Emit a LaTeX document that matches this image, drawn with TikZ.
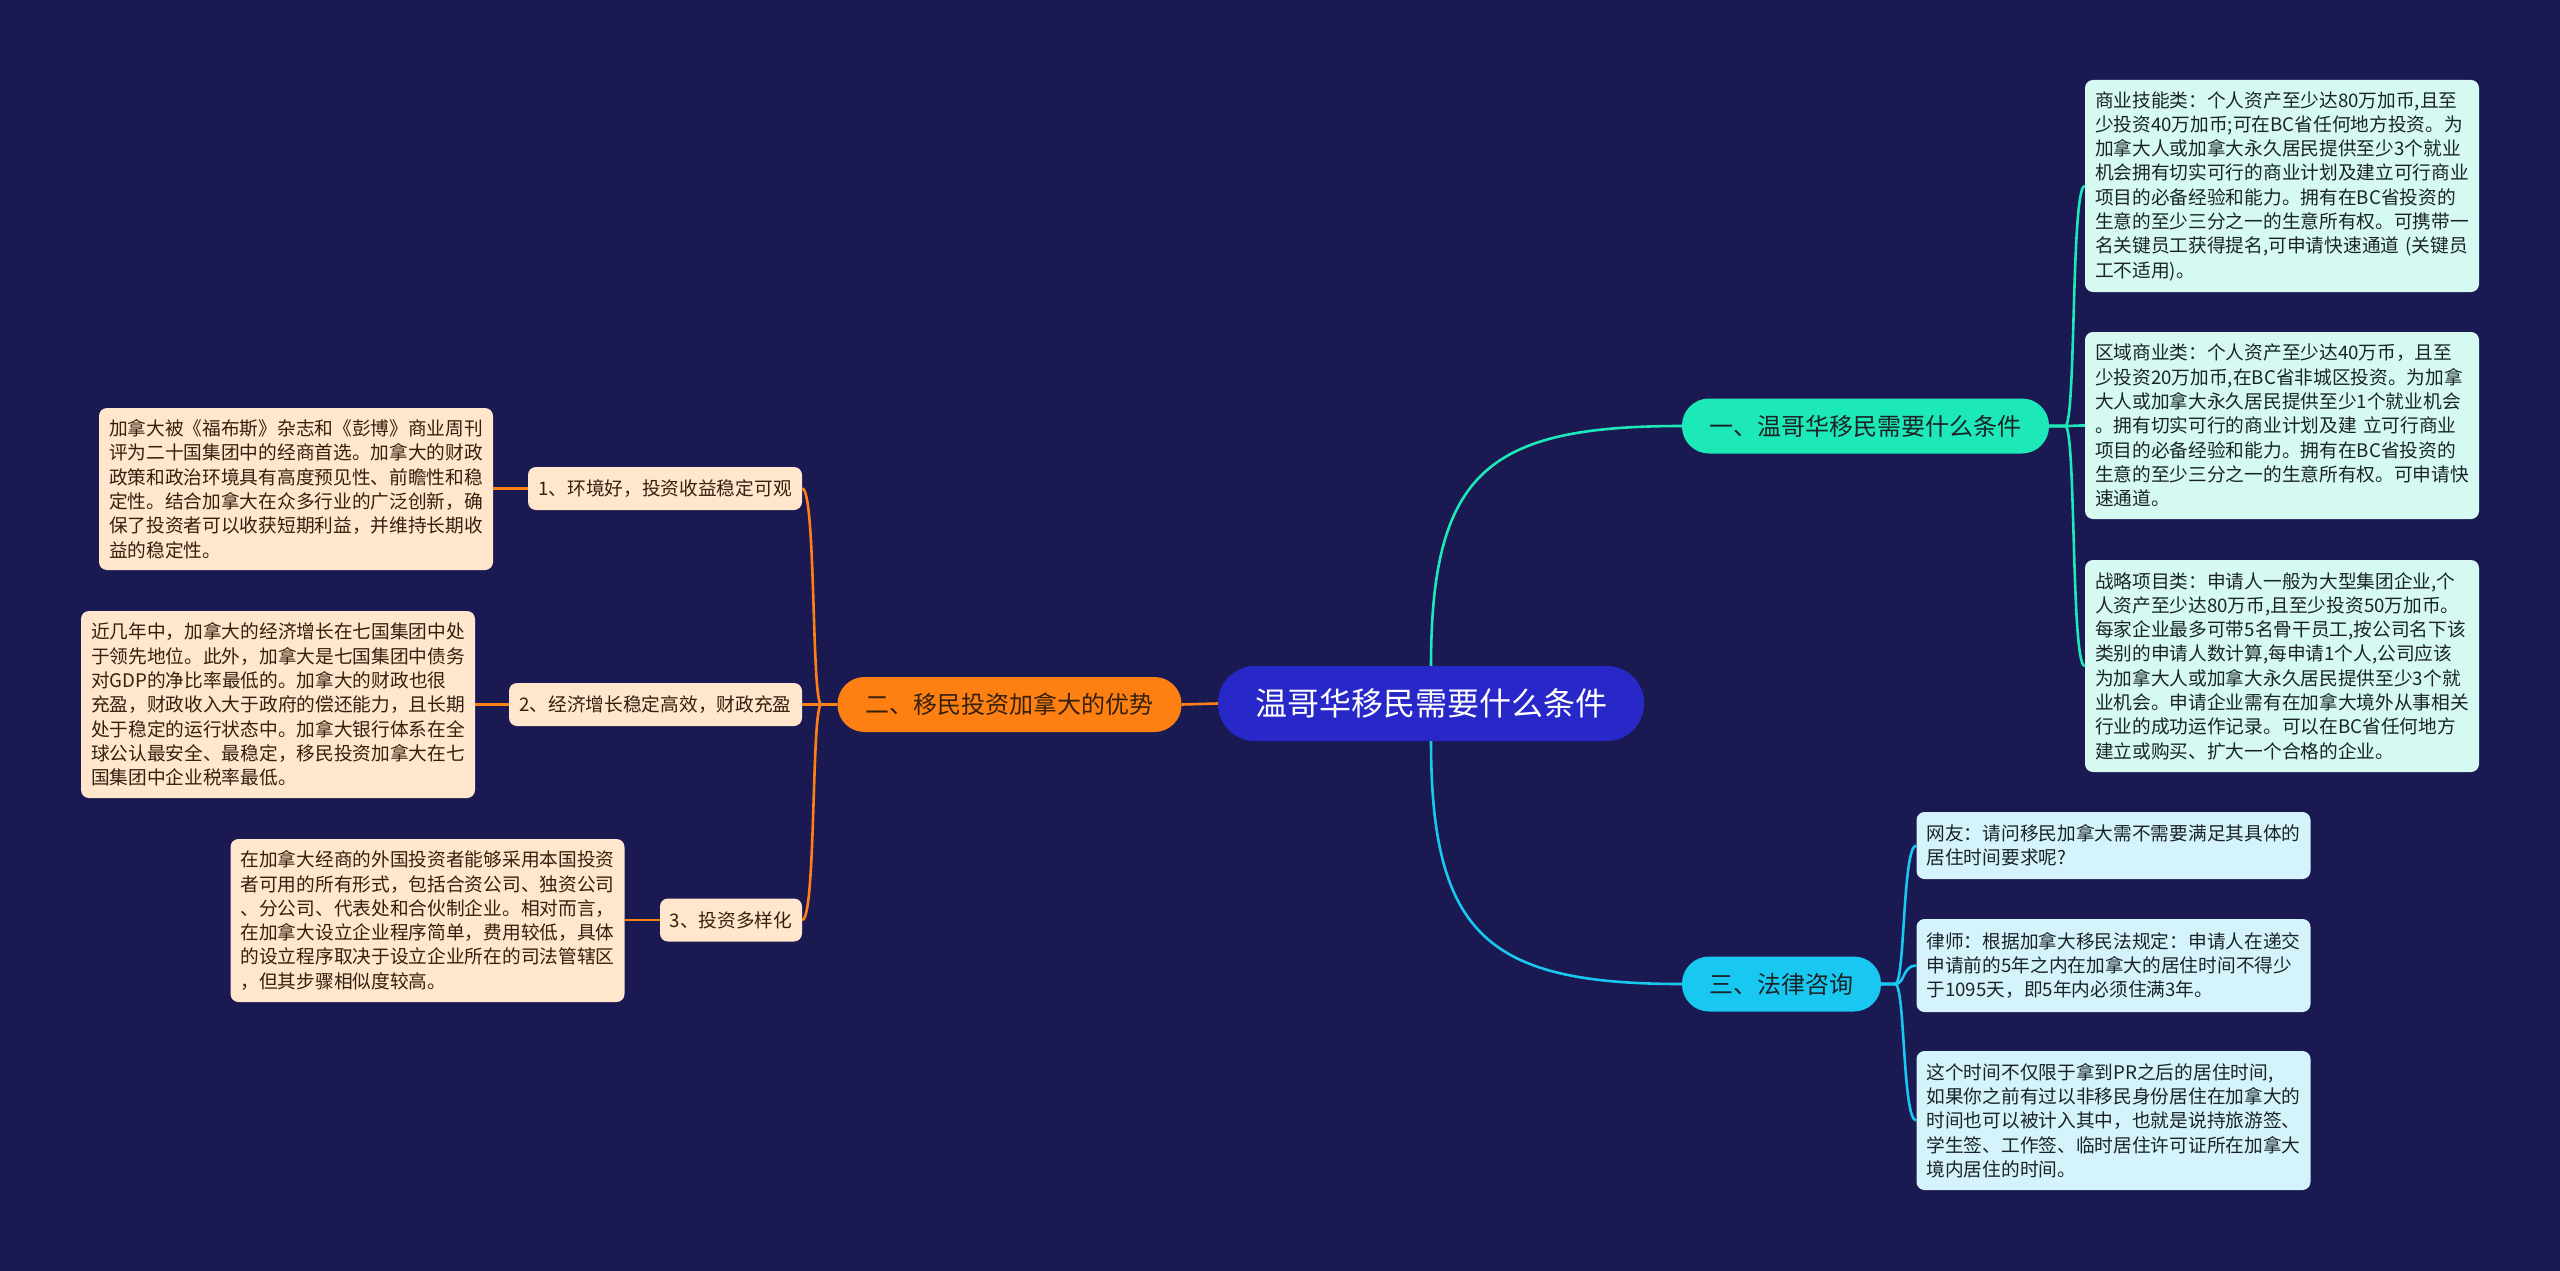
\documentclass[tikz,border=0pt]{standalone}
\usepackage{fontspec}
\usetikzlibrary{calc}
\setmainfont{Noto Sans CJK SC}
\definecolor{bg}{HTML}{1A1952}
\definecolor{rootfill}{HTML}{2828C8}
\definecolor{mint}{HTML}{1DE8B8}
\definecolor{cyanb}{HTML}{18C8F0}
\definecolor{orangeb}{HTML}{FF8012}
\definecolor{mintleaf}{HTML}{D6FAF1}
\definecolor{cyanleaf}{HTML}{D5F3FB}
\definecolor{peach}{HTML}{FFE6CC}
\definecolor{darktext}{HTML}{1A2428}
\definecolor{browntext}{HTML}{33200E}
\tikzset{
  rootnode/.style={fill=rootfill, text=white, rounded corners=37pt, minimum width=426pt, minimum height=75pt, inner sep=0pt, font=\fontsize{32}{36}\selectfont},
  branchnode/.style={rounded corners=27pt, minimum height=55pt, inner sep=0pt, font=\fontsize{24}{28}\selectfont},
  subnode/.style={fill=peach, text=browntext, rounded corners=8pt, minimum height=43pt, inner sep=0pt, font=\fontsize{18.7}{22}\selectfont},
  leafnode/.style={rounded corners=8pt, text width=374pt, inner xsep=10pt, inner ysep=0pt, align=left, font=\fontsize{18.7}{24.3}\selectfont},
  mintline/.style={draw=mint, line width=2.6pt},
  cyanline/.style={draw=cyanb, line width=2.6pt},
  orangeline/.style={draw=orangeb, line width=2.6pt},
}
\begin{document}
\begin{tikzpicture}[x=1pt,y=-1pt]
\useasboundingbox (0,0) rectangle (2560,1271);
\fill[bg] (0,0) rectangle (2560,1271);

% root and branches
\node[rootnode] (root) at (1431,703.5) {温哥华移民需要什么条件};
\node[branchnode, fill=mint, text=darktext, minimum width=367pt] (b1) at (1865.5,426) {一、温哥华移民需要什么条件};
\node[branchnode, fill=cyanb, text=darktext, minimum width=199pt] (b3) at (1781.5,984) {三、法律咨询};
\node[branchnode, fill=orangeb, text=browntext, minimum width=344pt] (b2) at (1009.5,704.5) {二、移民投资加拿大的优势};

% sub nodes of branch 2
\node[subnode, minimum width=274pt] (s1) at (665,488.5) {1、环境好，投资收益稳定可观};
\node[subnode, minimum width=293pt] (s2) at (655.5,704.5) {2、经济增长稳定高效，财政充盈};
\node[subnode, minimum width=142pt] (s3) at (731,920) {3、投资多样化};

% leaves of branch 1
\node[leafnode, fill=mintleaf, text=darktext, minimum height=212pt] (la) at (2282,186) {商业技能类：个人资产至少达80万加币,且至\\少投资40万加币;可在BC省任何地方投资。为\\加拿大人或加拿大永久居民提供至少3个就业\\机会拥有切实可行的商业计划及建立可行商业\\项目的必备经验和能力。拥有在BC省投资的\\生意的至少三分之一的生意所有权。可携带一\\名关键员工获得提名,可申请快速通道~(关键员\\工不适用)。};
\node[leafnode, fill=mintleaf, text=darktext, minimum height=187pt] (lb) at (2282,425.5) {区域商业类：个人资产至少达40万币，且至\\少投资20万加币,在BC省非城区投资。为加拿\\大人或加拿大永久居民提供至少1个就业机会\\。拥有切实可行的商业计划及建~立可行商业\\项目的必备经验和能力。拥有在BC省投资的\\生意的至少三分之一的生意所有权。可申请快\\速通道。};
\node[leafnode, fill=mintleaf, text=darktext, minimum height=212pt] (lc) at (2282,666) {战略项目类：申请人一般为大型集团企业,个\\人资产至少达80万币,且至少投资50万加币。\\每家企业最多可带5名骨干员工,按公司名下该\\类别的申请人数计算,每申请1个人,公司应该\\为加拿大人或加拿大永久居民提供至少3个就\\业机会。申请企业需有在加拿大境外从事相关\\行业的成功运作记录。可以在BC省任何地方\\建立或购买、扩大一个合格的企业。};

% leaves of branch 3
\node[leafnode, fill=cyanleaf, text=darktext, minimum height=67pt] (ld) at (2113.5,845.5) {网友：请问移民加拿大需不需要满足其具体的\\居住时间要求呢?};
\node[leafnode, fill=cyanleaf, text=darktext, minimum height=93pt] (le) at (2113.5,965.5) {律师：根据加拿大移民法规定：申请人在递交\\申请前的5年之内在加拿大的居住时间不得少\\于1095天，即5年内必须住满3年。};
\node[leafnode, fill=cyanleaf, text=darktext, minimum height=139pt] (lf) at (2113.5,1120.5) {这个时间不仅限于拿到PR之后的居住时间,\\如果你之前有过以非移民身份居住在加拿大的\\时间也可以被计入其中，也就是说持旅游签、\\学生签、工作签、临时居住许可证所在加拿大\\境内居住的时间。};

% leaves of branch 2
\node[leafnode, fill=peach, text=browntext, minimum height=162pt] (l1) at (296,489) {加拿大被《福布斯》杂志和《彭博》商业周刊\\评为二十国集团中的经商首选。加拿大的财政\\政策和政治环境具有高度预见性、前瞻性和稳\\定性。结合加拿大在众多行业的广泛创新，确\\保了投资者可以收获短期利益，并维持长期收\\益的稳定性。};
\node[leafnode, fill=peach, text=browntext, minimum height=187pt] (l2) at (278,704.5) {近几年中，加拿大的经济增长在七国集团中处\\于领先地位。此外，加拿大是七国集团中债务\\对GDP的净比率最低的。加拿大的财政也很\\充盈，财政收入大于政府的偿还能力，且长期\\处于稳定的运行状态中。加拿大银行体系在全\\球公认最安全、最稳定，移民投资加拿大在七\\国集团中企业税率最低。};
\node[leafnode, fill=peach, text=browntext, minimum height=163pt] (l3) at (427.5,920.5) {在加拿大经商的外国投资者能够采用本国投资\\者可用的所有形式，包括合资公司、独资公司\\、分公司、代表处和合伙制企业。相对而言，\\在加拿大设立企业程序简单，费用较低，具体\\的设立程序取决于设立企业所在的司法管辖区\\，但其步骤相似度较高。};

% connectors root -> branches
\draw[mintline] (root.north) .. controls ($(root.north)+(0,-196)$) and ($(b1.west)+(-192,0)$) .. (b1.west);
\draw[cyanline] (root.south) .. controls ($(root.south)+(0,196)$) and ($(b3.west)+(-192,0)$) .. (b3.west);
\draw[orangeline] (root.west) -- (b2.east);

% branch 1 -> leaves
\foreach \l in {la,lb,lc}{
  \draw[mintline] (b1.east) -- ++(16,0) .. controls ($(b1.east)+(27,0)$) and ($(\l.west)+(-14,0)$) .. (\l.west);
}
% branch 3 -> leaves
\foreach \l in {ld,le,lf}{
  \draw[cyanline] (b3.east) -- ++(14,0) .. controls ($(b3.east)+(24,0)$) and ($(\l.west)+(-14,0)$) .. (\l.west);
}
% branch 2 -> sub nodes
\foreach \s in {s1,s2,s3}{
  \draw[orangeline] (b2.west) -- ++(-16,0) .. controls ($(b2.west)+(-26,0)$) and ($(\s.east)+(14,0)$) .. (\s.east);
}
% sub nodes -> leaves
\draw[orangeline] (s1.west) -- (l1.east |- s1.west);
\draw[orangeline] (s2.west) -- (l2.east |- s2.west);
\draw[orangeline] (s3.west) -- (l3.east |- s3.west);
\end{tikzpicture}
\end{document}
